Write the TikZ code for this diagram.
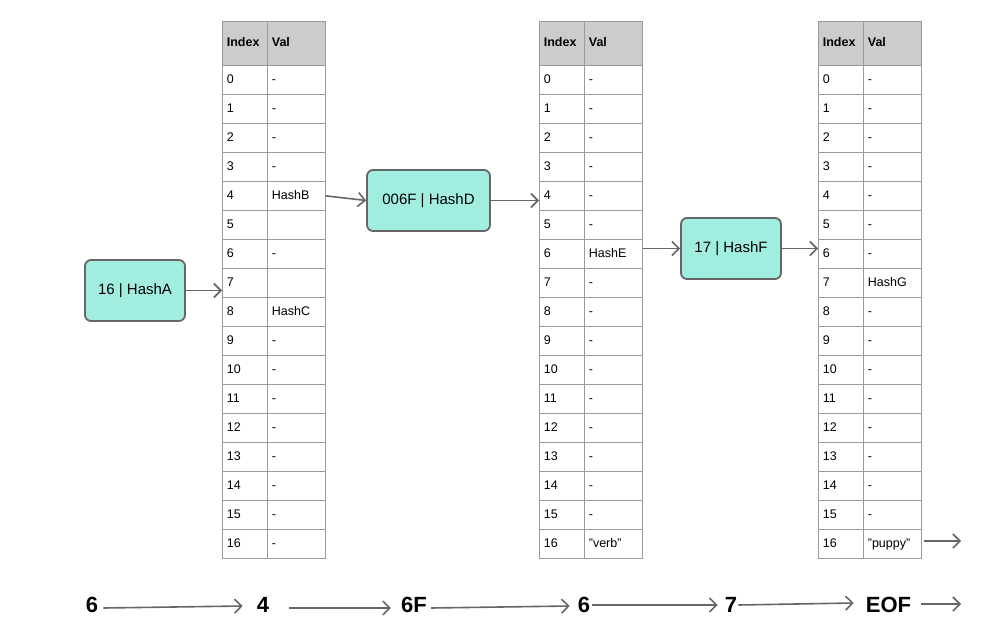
\documentclass[tikz,border=0pt]{standalone}
\usepackage{fontspec}
\setmainfont{Liberation Sans}
\usetikzlibrary{arrows.meta}
\definecolor{lineg}{HTML}{666666}
\definecolor{gridg}{HTML}{9A9A9A}
\definecolor{hdr}{HTML}{CCCCCC}
\definecolor{mint}{HTML}{A1EEE0}
\tikzset{
  cellbase/.style={draw=gridg, line width=0.7pt, anchor=north west, inner xsep=4.5pt, inner ysep=0pt,
    align=left, font=\fontsize{12.5}{14}\selectfont, text height=9pt, text depth=2.5pt},
  idxw/.style={text width=36pt},
  valw/.style={text width=49pt},
  rowcell/.style={cellbase, minimum height=29pt},
  hcell/.style={cellbase, minimum height=44pt, fill=hdr},
  hbox/.style={draw=lineg, line width=1.8pt, fill=mint, rounded corners=6pt, align=center,
    font=\fontsize{15}{18}\selectfont, minimum height=61pt},
  arr/.style={draw=lineg, line width=1.6pt, -{Straight Barb[length=7pt,width=14pt]}},
  blab/.style={font=\fontsize{22}{26}\selectfont\bfseries, inner sep=0pt},
}
\newcommand\hashtab[3]{%
  \node[hcell,idxw] (#1hi) at (#2,21) {\textbf{Index}};
  \node[hcell,valw] (#1hv) at ({#2+45},21) {\textbf{Val}};
  \foreach \v [count=\i from 0] in {#3} {
    \node[rowcell,idxw] (#1i\i) at (#2,{65+29*\i}) {\i};
    \node[rowcell,valw] (#1v\i) at ({#2+45},{65+29*\i}) {\v};
  }%
}
\begin{document}
\begin{tikzpicture}[x=1pt,y=-1pt]
\useasboundingbox (0,0) rectangle (998,642);

\hashtab{ta}{222}{-,-,-,-,HashB,{},-,{},HashC,-,-,-,-,-,-,-,-}
\hashtab{tb}{539}{-,-,-,-,-,-,HashE,-,-,-,-,-,-,-,-,-,"verb"}
\hashtab{tc}{818}{-,-,-,-,-,-,-,HashG,-,-,-,-,-,-,-,-,"puppy"}

\node[hbox, minimum width=100pt] (A) at (135,290.5) {16 | HashA};
\node[hbox, minimum width=123pt] (D) at (428.5,200.5) {006F | HashD};
\node[hbox, minimum width=100pt] (F) at (731,248.5) {17 | HashF};

\draw[arr] (A.east) -- (A.east -| tai7.west);
\draw[arr] (tav4.east) -- (D.west);
\draw[arr] (D.east) -- (D.east -| tbi4.west);
\draw[arr] (F.west -| tbv6.east) -- (F.west);
\draw[arr] (F.east) -- (F.east -| tci6.west);
\coordinate (endc) at (961,541);
\draw[arr] ([xshift=2pt]tcv16.east |- endc) -- (endc);

% bottom sequence
\node[blab] (b1) at (92,605) {6};
\node[blab] (b2) at (263,605) {4};
\node[blab] (b3) at (414,605) {6F};
\node[blab] (b4) at (584,605) {6};
\node[blab] (b5) at (731,605) {7};
\node[blab] (b6) at (888.5,605) {EOF};
\coordinate (bend) at (961,604);

\draw[arr] ([xshift=5pt,yshift=-3pt]b1.east) -- ([xshift=-14pt,yshift=-1pt]b2.west);
\draw[arr] ([xshift=20pt,yshift=-3pt]b2.east) -- ([xshift=-10pt,yshift=-3pt]b3.west);
\draw[arr] ([xshift=4pt,yshift=-3pt]b3.east) -- ([xshift=-8pt,yshift=-1pt]b4.west);
\draw[arr] ([xshift=2pt]b4.east) -- ([xshift=-7pt]b5.west);
\draw[arr] ([xshift=1pt]b5.east) -- ([xshift=-12pt,yshift=2pt]b6.west);
\draw[arr] ([xshift=10pt]b6.east |- bend) -- (bend);
\end{tikzpicture}
\end{document}
